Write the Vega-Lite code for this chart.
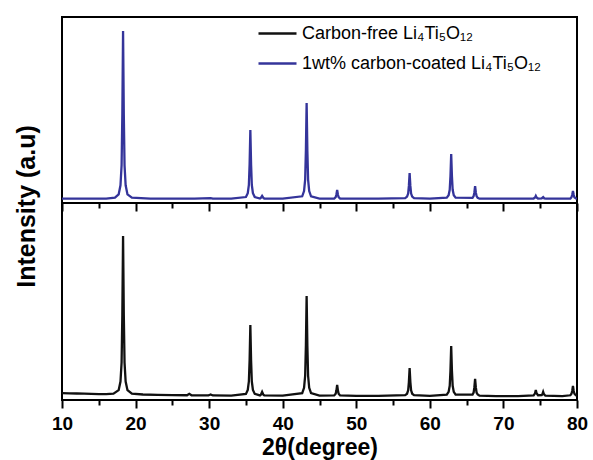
{
  "$schema": "https://vega.github.io/schema/vega-lite/v6.json",
  "padding": {"left": 12, "top": 13, "right": 10, "bottom": 0},
  "spacing": 0,
  "bounds": "flush",
  "config": {
    "view": {"stroke": "#000", "strokeWidth": 2},
    "font": "Liberation Sans",
    "axis": {"tickColor": "#000", "tickWidth": 2, "labelColor": "#000", "titleColor": "#000", "domain": false, "grid": false}
  },
  "datasets": {
    "black": [
      {"x":10,"y":3.5},{"x":11,"y":3.4},{"x":12,"y":3.3},{"x":13,"y":3.2},{"x":14,"y":3.1},{"x":15,"y":3.0},{"x":16,"y":3.0},{"x":17,"y":3.2},{"x":17.7,"y":5.0},{"x":17.95,"y":9.4},{"x":18.1,"y":19.0},{"x":18.2,"y":43.1},{"x":18.3,"y":83.2},{"x":18.4,"y":43.1},{"x":18.5,"y":19.0},{"x":18.65,"y":9.4},{"x":18.9,"y":5.0},{"x":19.5,"y":3.2},{"x":21,"y":2.8},{"x":23,"y":2.6},{"x":25,"y":2.5},{"x":27.0,"y":2.4},{"x":27.3,"y":3.1},{"x":27.6,"y":2.4},{"x":29.9,"y":2.3},{"x":30.2,"y":2.8},{"x":30.5,"y":2.3},{"x":33,"y":2.2},
      {"x":35.0,"y":3.1},{"x":35.25,"y":5.1},{"x":35.4,"y":9.4},{"x":35.5,"y":20.2},{"x":35.6,"y":38.1},{"x":35.7,"y":20.2},{"x":35.8,"y":9.4},{"x":35.95,"y":5.1},{"x":36.2,"y":3.1},{"x":36.9,"y":2.3},{"x":37.05,"y":2.8},{"x":37.2,"y":4.1},{"x":37.35,"y":2.8},{"x":37.5,"y":2.3},{"x":40,"y":2.2},
      {"x":42.65,"y":3.5},{"x":42.9,"y":6.2},{"x":43.05,"y":12.3},{"x":43.15,"y":27.5},{"x":43.25,"y":52.8},{"x":43.35,"y":27.5},{"x":43.45,"y":12.3},{"x":43.6,"y":6.2},{"x":43.85,"y":3.5},{"x":45,"y":2.2},
      {"x":47.0,"y":2.3},{"x":47.2,"y":3.2},{"x":47.3,"y":4.9},{"x":47.4,"y":7.6},{"x":47.5,"y":4.9},{"x":47.6,"y":3.2},{"x":47.8,"y":2.3},{"x":50,"y":2.1},{"x":53,"y":2.1},
      {"x":56.65,"y":2.5},{"x":56.9,"y":3.2},{"x":57.05,"y":4.9},{"x":57.15,"y":9.1},{"x":57.25,"y":16.2},{"x":57.35,"y":9.1},{"x":57.45,"y":4.9},{"x":57.6,"y":3.2},{"x":57.85,"y":2.5},{"x":60,"y":2.1},
      {"x":62.3,"y":2.7},{"x":62.55,"y":4.1},{"x":62.7,"y":7.2},{"x":62.8,"y":14.8},{"x":62.9,"y":27.4},{"x":63.0,"y":14.8},{"x":63.1,"y":7.2},{"x":63.25,"y":4.1},{"x":63.5,"y":2.7},
      {"x":65.8,"y":2.8},{"x":65.95,"y":3.8},{"x":66.05,"y":6.4},{"x":66.15,"y":10.7},{"x":66.25,"y":6.4},{"x":66.35,"y":3.8},{"x":66.5,"y":2.8},{"x":66.75,"y":2.2},{"x":69,"y":2.0},{"x":72,"y":2.0},
      {"x":74.1,"y":2.3},{"x":74.3,"y":3.4},{"x":74.4,"y":5.1},{"x":74.5,"y":3.4},{"x":74.7,"y":2.4},{"x":75.2,"y":2.5},{"x":75.3,"y":3.0},{"x":75.4,"y":4.1},{"x":75.5,"y":3.0},{"x":75.7,"y":2.2},{"x":78,"y":2.0},
      {"x":79.1,"y":2.4},{"x":79.25,"y":3.2},{"x":79.35,"y":4.6},{"x":79.45,"y":7.1},{"x":79.55,"y":4.6},{"x":79.65,"y":3.2},{"x":79.85,"y":2.4},{"x":80,"y":2.2}
    ],
    "blue": [
      {"x":10,"y":2.3},{"x":12,"y":2.3},{"x":14,"y":2.3},{"x":16,"y":2.4},{"x":17.2,"y":2.9},{"x":17.7,"y":4.6},{"x":17.95,"y":9.5},{"x":18.1,"y":20.3},{"x":18.2,"y":47.4},{"x":18.3,"y":92.5},{"x":18.4,"y":47.4},{"x":18.5,"y":20.3},{"x":18.65,"y":9.5},{"x":18.9,"y":4.6},{"x":19.5,"y":2.9},{"x":22,"y":2.4},{"x":25,"y":2.3},{"x":28,"y":2.3},{"x":30.2,"y":2.6},{"x":30.5,"y":2.3},{"x":33,"y":2.3},
      {"x":35.0,"y":3.2},{"x":35.25,"y":5.3},{"x":35.4,"y":9.7},{"x":35.5,"y":20.8},{"x":35.6,"y":39.2},{"x":35.7,"y":20.8},{"x":35.8,"y":9.7},{"x":35.95,"y":5.3},{"x":36.2,"y":3.2},{"x":36.9,"y":2.4},{"x":37.05,"y":2.9},{"x":37.2,"y":3.8},{"x":37.35,"y":2.9},{"x":37.5,"y":2.4},{"x":40,"y":2.3},
      {"x":42.65,"y":3.6},{"x":42.9,"y":6.4},{"x":43.05,"y":12.6},{"x":43.15,"y":28.1},{"x":43.25,"y":53.8},{"x":43.35,"y":28.1},{"x":43.45,"y":12.6},{"x":43.6,"y":6.4},{"x":43.85,"y":3.6},{"x":45,"y":2.3},
      {"x":47.0,"y":2.4},{"x":47.2,"y":3.1},{"x":47.3,"y":4.6},{"x":47.4,"y":7.0},{"x":47.5,"y":4.6},{"x":47.6,"y":3.1},{"x":47.8,"y":2.4},{"x":50,"y":2.3},{"x":53,"y":2.3},
      {"x":56.65,"y":2.6},{"x":56.9,"y":3.4},{"x":57.05,"y":5.1},{"x":57.15,"y":9.2},{"x":57.25,"y":16.1},{"x":57.35,"y":9.2},{"x":57.45,"y":5.1},{"x":57.6,"y":3.4},{"x":57.85,"y":2.6},{"x":60,"y":2.3},
      {"x":62.3,"y":2.9},{"x":62.55,"y":4.2},{"x":62.7,"y":7.1},{"x":62.8,"y":14.3},{"x":62.9,"y":26.3},{"x":63.0,"y":14.3},{"x":63.1,"y":7.1},{"x":63.25,"y":4.2},{"x":63.5,"y":2.9},
      {"x":65.8,"y":2.8},{"x":65.95,"y":3.7},{"x":66.05,"y":5.7},{"x":66.15,"y":9.1},{"x":66.25,"y":5.7},{"x":66.35,"y":3.7},{"x":66.5,"y":2.8},{"x":66.75,"y":2.3},{"x":69,"y":2.3},{"x":72,"y":2.3},
      {"x":74.1,"y":2.4},{"x":74.3,"y":3.0},{"x":74.4,"y":3.8},{"x":74.5,"y":3.0},{"x":74.7,"y":2.4},{"x":75.2,"y":2.5},{"x":75.4,"y":3.2},{"x":75.55,"y":2.5},{"x":75.8,"y":2.3},{"x":78,"y":2.3},
      {"x":79.1,"y":2.4},{"x":79.25,"y":3.1},{"x":79.35,"y":4.4},{"x":79.45,"y":6.5},{"x":79.55,"y":4.4},{"x":79.65,"y":3.1},{"x":79.85,"y":2.4},{"x":80,"y":2.3}
    ]
  },
  "vconcat": [
    {
      "width": 515, "height": 186,
      "data": {"name": "blue"},
      "mark": {"type": "line", "strokeWidth": 2.3},
      "encoding": {
        "x": {"field": "x", "type": "quantitative", "scale": {"domain": [10, 80], "nice": false},
              "axis": {"values": [10,15,20,25,30,35,40,45,50,55,60,65,70,75,80], "labels": false, "title": null,
                       "tickSize": {"condition": {"test": "datum.value % 10 === 0", "value": 8}, "value": 5}}},
        "y": {"field": "y", "type": "quantitative", "scale": {"domain": [0, 100], "nice": false}, "axis": null},
        "color": {"datum": "1wt% carbon-coated Li₄Ti₅O₁₂", "type": "nominal",
                  "scale": {"domain": ["Carbon-free Li₄Ti₅O₁₂", "1wt% carbon-coated Li₄Ti₅O₁₂"], "range": ["#111111", "#34349a"]},
                  "legend": {"title": null, "orient": "none", "legendX": 195, "legendY": -4, "symbolType": "stroke", "symbolSize": 1444, "symbolStrokeWidth": 2.5, "labelFontSize": 18, "labelColor": "#000", "labelOffset": 4, "rowPadding": -11, "labelLimit": 400}}
      }
    },
    {
      "width": 515, "height": 197,
      "data": {"name": "black"},
      "mark": {"type": "line", "strokeWidth": 2.3},
      "encoding": {
        "x": {"field": "x", "type": "quantitative", "scale": {"domain": [10, 80], "nice": false},
              "axis": {"values": [10,15,20,25,30,35,40,45,50,55,60,65,70,75,80], "labelExpr": "datum.value % 10 === 0 ? datum.label : ''",
                       "labelFontSize": 19, "labelFontWeight": "bold", "labelPadding": 6, "labelFlush": false,
                       "title": "2θ(degree)", "titleFontSize": 23, "titleFontWeight": "bold", "titlePadding": 3,
                       "tickSize": {"condition": {"test": "datum.value % 10 === 0", "value": 8}, "value": 5}}},
        "y": {"field": "y", "type": "quantitative", "scale": {"domain": [0, 100], "nice": false},
              "axis": {"title": "Intensity   (a.u)", "ticks": false, "labels": false, "titleFontSize": 25, "titleFontWeight": "bold",
                       "titleX": -28, "titleY": 3, "titleAngle": 270, "titleAlign": "center", "titleBaseline": "alphabetic"}},
        "color": {"datum": "Carbon-free Li₄Ti₅O₁₂", "type": "nominal"}
      }
    }
  ]
}
